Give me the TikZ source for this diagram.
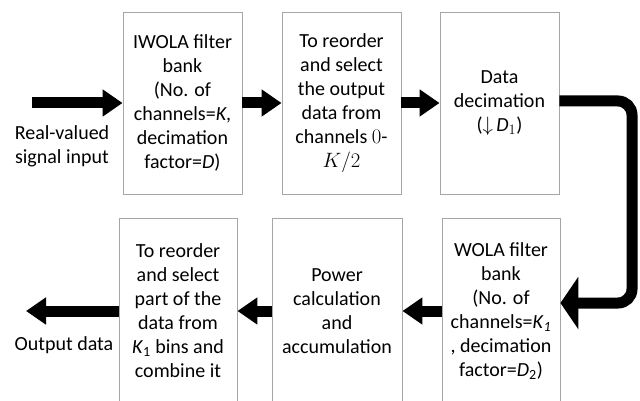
\documentclass[tikz,border=0pt]{standalone}
\usepackage{fontspec}
\setmainfont{Carlito}
\usetikzlibrary{arrows.meta}
\tikzset{
  box/.style={draw=black!35, line width=0.9pt, rectangle, inner sep=0pt, align=center,
    font=\fontsize{20}{24}\selectfont},
  toprow/.style={box, minimum width=119pt, minimum height=182pt},
  botrow/.style={box, minimum height=186pt},
  lbl/.style={align=center, inner sep=0pt, font=\fontsize{20}{24}\selectfont},
  fat/.style={line width=11pt, -{Triangle[length=20pt,width=26pt]}},
}
\begin{document}
\begin{tikzpicture}[x=1pt,y=-1pt]
\useasboundingbox (0,0) rectangle (640,401);
\clip (0,0) rectangle (640,401);
% top row
\node[toprow] (B1) at (182.5,103) {IWOLA filter\\bank\\(No. of\\channels=\textit{K},\\decimation\\factor=\textit{D})};
\node[toprow] (B2) at (341.5,103) {To reorder\\and select\\the output\\data from\\channels $0$-\\$K/2$};
\node[toprow] (B3) at (499.5,103) {Data\\decimation\\($\downarrow$\,\textit{D}$_1$)};
% bottom row
\node[botrow, minimum width=118pt] (B4) at (501,311) {WOLA filter\\bank\\(No. of\\channels=\textit{K}\textsubscript{\textit{1}}\\, decimation\\factor=\textit{D}\textsubscript{2})};
\node[botrow, minimum width=130pt] (B5) at (337,311) {Power\\calculation\\and\\accumulation};
\node[botrow, minimum width=118pt] (B6) at (178,311) {To reorder\\and select\\part of the\\data from\\\textit{K}\textsubscript{1} bins and\\combine it};
% labels
\node[lbl] (Lin) at (62,146) {Real-valued\\signal input};
\node[lbl] (Lout) at (64,345) {Output data};
\coordinate (inS) at (32,103);
\coordinate (outT) at (26,311);
% connectors
\draw[fat] (inS) -- (B1.west);
\draw[fat] (B1.east) -- (B2.west);
\draw[fat] (B2.east) -- (B3.west);
\draw[line width=11pt, rounded corners=14pt, -{Triangle[length=18pt,width=52pt]}]
  ([yshift=2pt]B3.east) -- (632,101) |- ([yshift=8pt]B4.east);
\draw[fat] (B4.west) -- (B5.east);
\draw[fat] (B5.west) -- (B6.east);
\draw[fat] (B6.west) -- (outT);
\end{tikzpicture}
\end{document}
